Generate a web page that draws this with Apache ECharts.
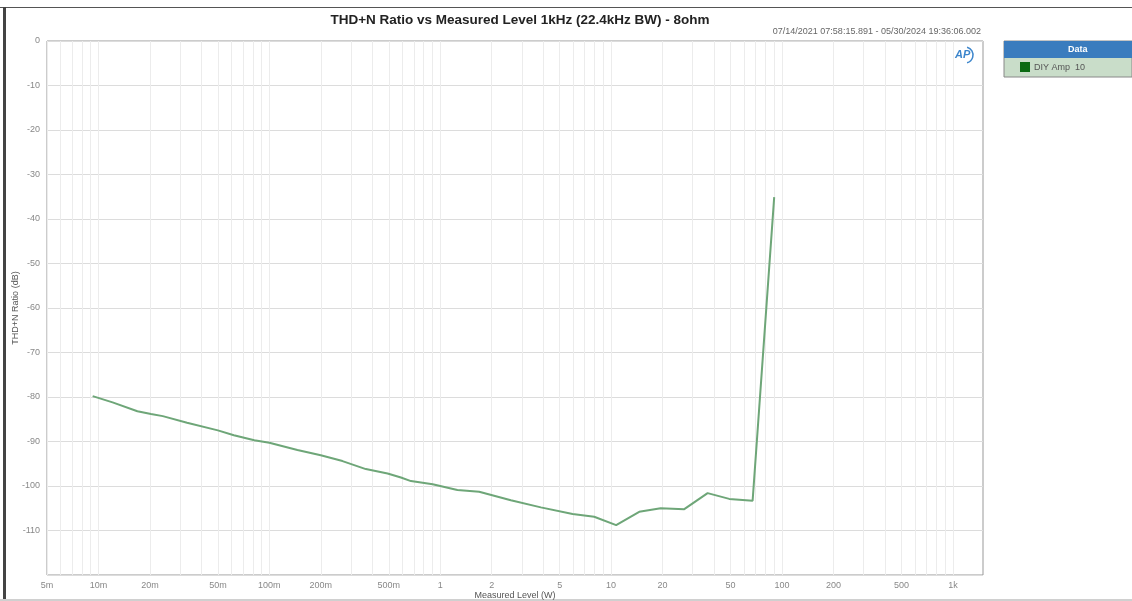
<!DOCTYPE html>
<html>
<head>
<meta charset="utf-8">
<script src="https://cdn.jsdelivr.net/npm/echarts@6/dist/echarts.min.js"></script>
<style>html,body{margin:0;padding:0;background:#fff;}#c{width:1132px;height:601px;}</style>
</head>
<body>
<div id="c"></div>
<script>
// Measured level (W)
var levels = [0.00925, 0.0121, 0.0169, 0.0203, 0.0238, 0.033, 0.050, 0.062, 0.0817, 0.100, 0.146, 0.200, 0.268, 0.367, 0.492, 0.589, 0.674, 0.903, 1.26, 1.69, 2.59, 3.88, 5.95, 7.96, 10.7, 14.6, 19.5, 26.8, 36.7, 49.1, 67.3, 90];
// THD+N ratio (dB)
var thdn = [-79.8, -81.2, -83.2, -83.8, -84.3, -85.8, -87.5, -88.6, -89.7, -90.3, -91.9, -93.1, -94.4, -96.2, -97.2, -98.1, -98.9, -99.6, -100.9, -101.3, -103.2, -104.8, -106.3, -106.9, -108.8, -105.8, -105.0, -105.2, -101.6, -102.9, -103.3, -35.1];
// x tick labels (W)
var xLabelTicks = [0.005, 0.01, 0.02, 0.05, 0.1, 0.2, 0.5, 1, 2, 5, 10, 20, 50, 100, 200, 500, 1000];
// x minor grid lines (W)
var xMinorTicks = [0.005,0.006,0.007,0.008,0.009,0.01,0.02,0.03,0.04,0.05,0.06,0.07,0.08,0.09,0.1,0.2,0.3,0.4,0.5,0.6,0.7,0.8,0.9,1,2,3,4,5,6,7,8,9,10,20,30,40,50,60,70,80,90,100,200,300,400,500,600,700,800,900,1000];
var xMin = 0.005, xMax = 1500;
var yMin = -120, yMax = 0, yStep = 10;

var seriesData = levels.map(function (v, i) { return [v, thdn[i]]; });

function fmtW(v) {
  if (v >= 1000) return (v / 1000) + 'k';
  if (v < 1) return String(Math.round(v * 1000 * 1000) / 1000) + 'm';
  return String(v);
}

var chart = echarts.init(document.getElementById('c'), null, {renderer: 'canvas'});
var font = 'Liberation Sans, Arial, sans-serif';
chart.setOption({
  animation: false,
  backgroundColor: '#fff',
  title: {
    text: 'THD+N Ratio vs Measured Level 1kHz (22.4kHz BW) - 8ohm',
    left: 515, top: 8, textAlign: 'center',
    textStyle: {fontFamily: font, fontSize: 13.5, fontWeight: 'bold', color: '#222'}
  },
  grid: {left: 47, right: 149, top: 41, bottom: 26, show: true, borderColor: '#999', borderWidth: 1,
    containLabel: false, outerBoundsMode: 'none'},
  xAxis: [{
    type: 'log', logBase: 10, min: xMin, max: xMax,
    name: 'Measured Level (W)', nameLocation: 'middle', nameGap: 16, nameMoveOverlap: false,
    nameTextStyle: {fontFamily: font, fontSize: 9, color: '#555'},
    axisLine: {show: false}, axisTick: {show: false, customValues: xLabelTicks},
    axisLabel: {customValues: xLabelTicks, formatter: fmtW, fontFamily: font, fontSize: 9, color: '#888', margin: 6},
    splitLine: {show: true, lineStyle: {color: '#d4d4d4', width: 1}}
  }, {
    type: 'log', logBase: 10, min: xMin, max: xMax, position: 'bottom',
    axisLine: {show: false}, axisTick: {show: false, customValues: xMinorTicks},
    axisLabel: {show: false},
    splitLine: {show: true, lineStyle: {color: '#ececec', width: 1}}
  }],
  yAxis: {
    type: 'value', min: yMin, max: yMax, interval: yStep,
    name: 'THD+N Ratio (dB)', nameLocation: 'middle', nameGap: 27, nameRotate: 90, nameMoveOverlap: false,
    nameTextStyle: {fontFamily: font, fontSize: 9, color: '#555'},
    axisLine: {show: false}, axisTick: {show: false},
    axisLabel: {fontFamily: font, fontSize: 9, color: '#888', margin: 7,
      formatter: function (v) { return v === yMin ? '' : String(v); }},
    splitLine: {show: true, lineStyle: {color: '#dcdcdc', width: 1}}
  },
  series: [{
    type: 'line', xAxisIndex: 0, data: seriesData, showSymbol: false, symbol: 'none',
    lineStyle: {color: '#6ea678', width: 2}, z: 5
  }],
  graphic: [
    {type: 'rect', shape: {x: 0, y: 7, width: 1132, height: 1}, style: {fill: '#555'}, silent: true},
    {type: 'rect', shape: {x: 3, y: 7, width: 3, height: 594}, style: {fill: '#444'}, silent: true},
    {type: 'rect', shape: {x: 0, y: 599, width: 1132, height: 2}, style: {fill: '#d0d0d0'}, silent: true},
    {type: 'text', right: 1132 - 981, top: 27,
      style: {text: '07/14/2021 07:58:15.891 - 05/30/2024 19:36:06.002', fontFamily: font, fontSize: 9, fill: '#666', textAlign: 'right'}},
    {type: 'text', left: 955, top: 49,
      style: {text: 'AP', fontFamily: font, fontSize: 11, fontWeight: 'bold', fontStyle: 'italic', fill: '#3d86cc'}},
    {type: 'arc', shape: {cx: 965, cy: 55, r: 8, startAngle: -Math.PI / 2.4, endAngle: Math.PI / 2.4},
      style: {stroke: '#3d86cc', lineWidth: 1.5, fill: null}},
    {type: 'rect', shape: {x: 1004, y: 41, width: 128, height: 36}, style: {fill: '#c9ddc9', stroke: '#888', lineWidth: 1}},
    {type: 'rect', shape: {x: 1004, y: 41, width: 128, height: 17}, style: {fill: '#3a7cbe'}},
    {type: 'text', left: 1068, top: 45,
      style: {text: 'Data', fontFamily: font, fontSize: 9, fontWeight: 'bold', fill: '#fff', textAlign: 'center'}},
    {type: 'rect', shape: {x: 1020, y: 62, width: 10, height: 10}, style: {fill: '#0b6a12'}},
    {type: 'text', left: 1034, top: 63,
      style: {text: 'DIY Amp  10', fontFamily: font, fontSize: 9, fill: '#555'}}
  ]
});
</script>
</body>
</html>
